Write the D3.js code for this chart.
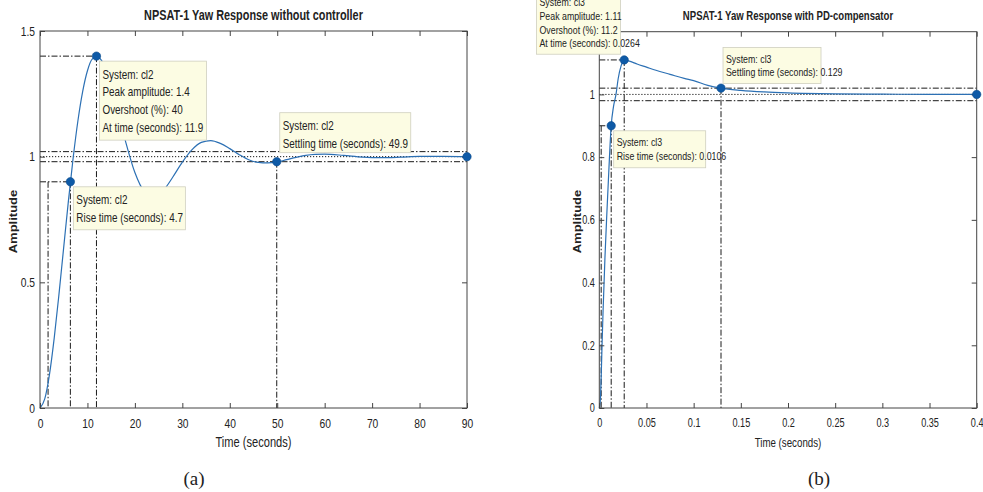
<!DOCTYPE html>
<html>
<head>
<meta charset="utf-8">
<script src="https://cdn.jsdelivr.net/npm/d3@7"></script>
<style>
body { margin: 0; background: #fff; }
text { font-family: "Liberation Sans", Arial, sans-serif; fill: #222; }
</style>
</head>
<body>
<svg id="fig" width="983" height="492"></svg>
<script>
// ---- panel (a): step response without controller ----
var timeA = [0, 1, 2, 3, 4, 5, 6, 7, 8, 9, 10, 11, 12, 13, 14, 16, 18, 20, 22, 24, 26, 28, 30,
             32, 34, 36, 38, 40, 42, 44, 46, 48, 50, 52, 54, 56, 58, 60, 64, 68, 72, 76, 80, 85, 90];
var ampA = [0, 0.036, 0.134, 0.279, 0.453, 0.640, 0.826, 0.997, 1.144, 1.260, 1.342, 1.388, 1.397,
            1.382, 1.341, 1.212, 1.063, 0.937, 0.861, 0.840, 0.866, 0.919, 0.978, 1.027, 1.057,
            1.064, 1.053, 1.032, 1.008, 0.988, 0.977, 0.975, 0.979, 0.988, 0.997, 1.005, 1.009,
            1.010, 1.005, 0.998, 0.996, 0.998, 1.001, 1.001, 1.000];
var xTicksA = [0, 10, 20, 30, 40, 50, 60, 70, 80, 90];
var xLabelsA = ["0", "10", "20", "30", "40", "50", "60", "70", "80", "90"];
var yTicksA = [0, 0.5, 1, 1.5];
var yLabelsA = ["0", "0.5", "1", "1.5"];
var riseA = [1.7, 6.4, 0.9];       // t10, t90, level
var peakA = [11.9, 1.4];
var settleA = [49.9, 0.98];
var bandA = [0.98, 1.02];
var finalA = [90, 1];
var tipsA = [
  ["System: cl2", "Peak amplitude: 1.4", "Overshoot (%): 40", "At time (seconds): 11.9"],
  ["System: cl2", "Rise time (seconds): 4.7"],
  ["System: cl2", "Settling time (seconds): 49.9"]
];

// ---- panel (b): step response with PD-compensator ----
var timeB = [0, 0.001, 0.002, 0.003, 0.004, 0.006, 0.008, 0.010, 0.0126, 0.015, 0.0177, 0.020,
             0.023, 0.0264, 0.030, 0.035, 0.040, 0.050, 0.060, 0.075, 0.090, 0.100, 0.115, 0.129,
             0.150, 0.175, 0.200, 0.250, 0.300, 0.350, 0.400];
var ampB = [0, 0.02, 0.10, 0.21, 0.31, 0.48, 0.62, 0.75, 0.90, 0.96, 1.0, 1.05, 1.09, 1.11, 1.108,
            1.103, 1.097, 1.087, 1.077, 1.064, 1.051, 1.044, 1.029, 1.02, 1.013, 1.008, 1.005,
            1.002, 1.001, 1.0, 1.0];
var xTicksB = [0, 0.05, 0.1, 0.15, 0.2, 0.25, 0.3, 0.35, 0.4];
var xLabelsB = ["0", "0.05", "0.1", "0.15", "0.2", "0.25", "0.3", "0.35", "0.4"];
var yTicksB = [0, 0.2, 0.4, 0.6, 0.8, 1];
var yLabelsB = ["0", "0.2", "0.4", "0.6", "0.8", "1"];
var riseB = [0.002, 0.0126, 0.9];
var peakB = [0.0264, 1.11];
var settleB = [0.129, 1.02];
var bandB = [0.98, 1.02];
var finalB = [0.4, 1];
var tipsB = [
  ["System: cl3", "Peak amplitude: 1.11", "Overshoot (%): 11.2", "At time (seconds): 0.0264"],
  ["System: cl3", "Rise time (seconds): 0.0106"],
  ["System: cl3", "Settling time (seconds): 0.129"]
];

var svg = d3.select("#fig");
var dashDot = "6,2,1.5,2";
var narrow = 0.76;   // the source figure is horizontally compressed

function squish(sel, k) {
  sel.each(function () {
    var w = this.getComputedTextLength();
    d3.select(this).attr("textLength", w * k).attr("lengthAdjust", "spacingAndGlyphs");
  });
}

function drawPanel(p) {
  var g = svg.append("g");
  var x = d3.scaleLinear().domain(p.xDomain).range([p.box[0], p.box[1]]);
  var y = d3.scaleLinear().domain(p.yDomain).range([p.box[3], p.box[2]]);

  // characteristic guide lines
  var guides = g.append("g").attr("stroke", "#1a1a1a").attr("stroke-width", 1).attr("fill", "none");
  p.band.forEach(function (v) {
    guides.append("line").attr("x1", p.box[0]).attr("x2", p.box[1])
      .attr("y1", y(v)).attr("y2", y(v)).attr("stroke-dasharray", dashDot);
  });
  guides.append("line").attr("x1", p.box[0]).attr("x2", p.box[1])
    .attr("y1", y(p.final[1])).attr("y2", y(p.final[1])).attr("stroke-dasharray", "1.2,1.8");
  // rise
  guides.append("line").attr("x1", p.box[0]).attr("x2", x(p.rise[1]))
    .attr("y1", y(p.rise[2])).attr("y2", y(p.rise[2])).attr("stroke-dasharray", dashDot);
  [p.rise[0], p.rise[1]].forEach(function (t) {
    guides.append("line").attr("x1", x(t)).attr("x2", x(t))
      .attr("y1", y(p.rise[2])).attr("y2", p.box[3]).attr("stroke-dasharray", dashDot);
  });
  // peak
  guides.append("line").attr("x1", p.box[0]).attr("x2", x(p.peak[0]))
    .attr("y1", y(p.peak[1])).attr("y2", y(p.peak[1])).attr("stroke-dasharray", dashDot);
  guides.append("line").attr("x1", x(p.peak[0])).attr("x2", x(p.peak[0]))
    .attr("y1", y(p.peak[1])).attr("y2", p.box[3]).attr("stroke-dasharray", dashDot);
  // settling
  guides.append("line").attr("x1", x(p.settle[0])).attr("x2", x(p.settle[0]))
    .attr("y1", y(p.settle[1])).attr("y2", p.box[3]).attr("stroke-dasharray", dashDot);

  // response curve
  var line = d3.line()
    .x(function (d, i) { return x(p.t[i]); })
    .y(function (d) { return y(d); })
    .curve(d3.curveMonotoneX);
  g.append("path").datum(p.a)
    .attr("d", line)
    .attr("fill", "none")
    .attr("stroke", "#2c70b4")
    .attr("stroke-width", 1.2);

  // axes with inward ticks on all four sides
  var bottom = g.append("g").attr("transform", "translate(0," + p.box[3] + ")")
    .call(d3.axisBottom(x).tickValues(p.xTicks).tickSizeInner(-5).tickSizeOuter(0).tickPadding(p.xPad)
      .tickFormat(function (d, i) { return p.xLabels[i]; }));
  var top = g.append("g").attr("transform", "translate(0," + p.box[2] + ")")
    .call(d3.axisTop(x).tickValues(p.xTicks).tickSizeInner(-5).tickSizeOuter(0).tickFormat(""));
  var left = g.append("g").attr("transform", "translate(" + p.box[0] + ",0)")
    .call(d3.axisLeft(y).tickValues(p.yTicks).tickSizeInner(-5).tickSizeOuter(0).tickPadding(p.yPad)
      .tickFormat(function (d, i) { return p.yLabels[i]; }));
  var right = g.append("g").attr("transform", "translate(" + p.box[1] + ",0)")
    .call(d3.axisRight(y).tickValues(p.yTicks).tickSizeInner(-5).tickSizeOuter(0).tickFormat(""));
  [bottom, top, left, right].forEach(function (a) {
    a.select(".domain").remove();
    a.selectAll("line").attr("stroke", "#444");
    a.selectAll("text").attr("font-family", null).style("font-size", p.tickFont + "px").attr("fill", "#333");
    squish(a.selectAll("text"), narrow);
  });
  g.append("rect")
    .attr("x", p.box[0]).attr("y", p.box[2])
    .attr("width", p.box[1] - p.box[0]).attr("height", p.box[3] - p.box[2])
    .attr("fill", "none").attr("stroke", "#444").attr("stroke-width", 1);

  // data tip markers
  var pts = [[p.rise[1], p.rise[2]], p.peak, p.settle, p.final];
  g.selectAll("circle.tip").data(pts).enter().append("circle")
    .attr("class", "tip")
    .attr("cx", function (d) { return x(d[0]); })
    .attr("cy", function (d) { return y(d[1]); })
    .attr("r", 4.2)
    .attr("fill", "#0e5aa7")
    .attr("stroke", "#0a4a8c")
    .attr("stroke-width", 0.6);

  // titles and labels
  var cx = (p.box[0] + p.box[1]) / 2;
  svg.append("text").attr("x", cx).attr("y", 20)
    .attr("text-anchor", "middle").style("font-size", p.titleFont + "px").style("font-weight", "bold")
    .text(p.title).call(squish, narrow);
  svg.append("text").attr("x", cx).attr("y", 447)
    .attr("text-anchor", "middle").style("font-size", p.xLabelFont + "px")
    .text("Time (seconds)").call(squish, narrow);
  svg.append("text")
    .attr("transform", "translate(" + p.yLabelX + ",221.5) scale(0.8,1) rotate(-90)")
    .attr("text-anchor", "middle")
    .style("font-size", "13px").style("font-weight", "bold")
    .text("Amplitude");
  svg.append("text").attr("x", p.capX).attr("y", 485)
    .attr("text-anchor", "middle")
    .style("font-family", "'Liberation Serif', 'Times New Roman', serif")
    .style("font-size", "19px")
    .text(p.caption);

  // data tip boxes: peak, rise, settling
  var anchors = [p.peak, [p.rise[1], p.rise[2]], p.settle];
  p.tips.forEach(function (lines, i) {
    var o = p.tipPos[i];
    var bx = x(anchors[i][0]) + o[0], by = y(anchors[i][1]) + o[1];
    var tg = svg.append("g");
    tg.append("rect").attr("x", bx).attr("y", by).attr("width", o[2]).attr("height", o[3])
      .attr("fill", "#fcfce3").attr("stroke", "#cfcfbf").attr("stroke-width", 0.8);
    lines.forEach(function (s, k) {
      tg.append("text").attr("x", bx + 3).attr("y", by + p.tipFirst + k * p.tipLine)
        .style("font-size", p.tipFont + "px").text(s).call(squish, p.tipSquish);
    });
  });
}

drawPanel({
  box: [40, 467, 31, 408], xDomain: [0, 90], yDomain: [0, 1.5],
  t: timeA, a: ampA, xTicks: xTicksA, yTicks: yTicksA, xLabels: xLabelsA, yLabels: yLabelsA,
  rise: riseA, peak: peakA, settle: settleA, band: bandA, final: finalA,
  tickFont: 13.5, xPad: 10, yPad: 5, titleFont: 14.3, xLabelFont: 14.6,
  title: "NPSAT-1 Yaw Response without controller",
  yLabelX: 17, capX: 194, caption: "(a)",
  tips: tipsA, tipFont: 13, tipSquish: narrow, tipFirst: 17.5, tipLine: 17.8,
  tipPos: [[3, 5, 107, 79], [3, 5, 112, 43], [3, -49, 131, 40]]
});

drawPanel({
  box: [599.3, 976.7, 31.7, 408], xDomain: [0, 0.4], yDomain: [0, 1.2],
  t: timeB, a: ampB, xTicks: xTicksB, yTicks: yTicksB, xLabels: xLabelsB, yLabels: yLabelsB,
  rise: riseB, peak: peakB, settle: settleB, band: bandB, final: finalB,
  tickFont: 12, xPad: 10, yPad: 4.5, titleFont: 12.6, xLabelFont: 12.8,
  title: "NPSAT-1 Yaw Response with PD-compensator",
  yLabelX: 581, capX: 819, caption: "(b)",
  tips: tipsB, tipFont: 11, tipSquish: 0.8, tipFirst: 15, tipLine: 13.8,
  tipPos: [[-87.7, -69, 84, 63.3], [2.5, 5, 92, 37], [2, -40.6, 98, 36]]
});
</script>
</body>
</html>
